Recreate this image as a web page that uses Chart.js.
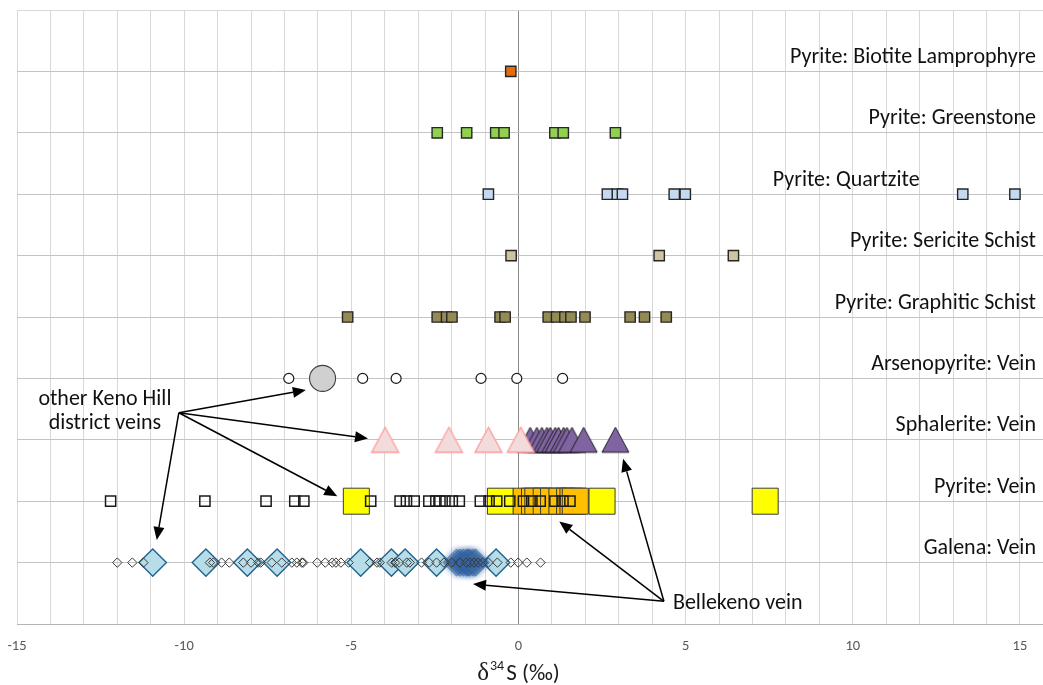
<!DOCTYPE html>
<html>
<head>
<meta charset="utf-8">
<script src="https://cdn.jsdelivr.net/npm/chart.js@4.4.0/dist/chart.umd.min.js"></script>
<style>
  html, body { margin: 0; padding: 0; background: #ffffff; }
  #wrap { width: 1043px; height: 685px; position: relative; }
</style>
</head>
<body>
<div id="wrap"><canvas id="chart"></canvas></div>
<script>
// Row captions, bottom row first (row 1 = Galena: Vein)
const rowNames = [
  'Galena: Vein',
  'Pyrite: Vein',
  'Sphalerite: Vein',
  'Arsenopyrite: Vein',
  'Pyrite: Graphitic Schist',
  'Pyrite: Sericite Schist',
  'Pyrite: Quartzite',
  'Pyrite: Greenstone',
  'Pyrite: Biotite Lamprophyre'
];

// x-axis labelled ticks (‰) and axis title parts: δ, superscript 34, S (‰)
const xTickLabels = [-15, -10, -5, 0, 5, 10, 15];
const axisTitleParts = ['δ', '34', 'S (‰)'];

// δ34S values (‰)
const biotiteLamprophyre = [-0.23];
const greenstone = [-2.43, -1.55, -0.68, -0.43, 1.09, 1.34, 2.90];
const quartzite = [-0.90, 2.66, 2.96, 3.11, 4.66, 4.99, 13.29, 14.85];
const sericiteSchist = [-0.22, 4.21, 6.43];
const graphiticSchist = [-5.11, -2.43, -2.15, -1.99, -0.55, -0.40, 0.89, 1.14, 1.39, 1.57, 1.99, 3.34, 3.77, 4.42];

const arsenopyriteSamples = [-6.87, -4.66, -3.66, -1.12, -0.05, 1.32];
const arsenopyriteDistrict = [-5.86];

const sphaleriteDistrict = [-3.99, -2.08, -0.90, 0.07];
const sphaleriteBellekeno = [0.35, 0.55, 0.70, 0.85, 0.95, 1.10, 1.20, 1.35, 1.45, 1.60, 1.95, 2.90];

const pyriteSamples = [-12.20, -9.38, -7.55, -6.69, -6.42, -4.42, -3.54, -3.35, -3.12, -2.68, -2.47,
  -2.35, -2.20, -1.98, -1.77, -1.14, -0.88, -0.65, -0.26, 0.15, 0.40, 0.65, 1.09, 1.33, 1.54];
const pyriteDistrict = [-4.85, -0.54, 2.50, 7.38];
const pyriteBellekeno = [0.23, 0.48, 0.58, 0.83, 1.05, 1.30, 1.53, 1.63, 1.70];

const galenaSamples = [-12.00, -11.55, -11.22, -9.23, -9.13, -8.88, -8.65, -8.23, -8.00, -7.78, -7.71,
  -7.38, -7.08, -6.78, -6.63, -6.48, -6.44, -6.02, -5.78, -5.57, -5.46, -5.31, -5.08, -4.44, -4.23,
  -4.15, -3.79, -3.69, -3.57, -3.34, -3.25, -2.90, -2.67, -2.45, -2.23, -2.00, -1.75, -1.55, -1.45,
  -1.33, -1.20, -1.07, -0.90, -0.63, -0.23, -0.01, 0.25, 0.66];
const galenaDistrict = [-10.94, -9.35, -8.11, -7.22, -4.72, -3.80, -3.39, -2.45, -0.67];
const galenaBellekeno = [-1.85, -1.75, -1.65, -1.55, -1.50, -1.45, -1.35, -1.28];

// Call-out arrows, in axis units: [x (‰), row]
const calloutDistrict = { from: [-10.16, 3.44], to: [[-6.36, 3.81], [-4.50, 3.02], [-5.42, 2.08], [-10.82, 1.37]] };
const calloutBellekeno = { from: [4.35, 0.37], to: [[-1.36, 0.65], [1.22, 1.67], [3.13, 2.69]] };

const FONT = '"Carlito", "Lato", "Liberation Sans", sans-serif';
const SERIF = '"Liberation Serif", "DejaVu Serif", serif';

const onRow = (values, row) => values.map(v => ({ x: v, y: row }));

// Triangle marker drawn into a small canvas so it is centred on its bounding box
function triangleMarker(fill, stroke, lineWidth, w, h) {
  const pad = 2;
  const c = document.createElement('canvas');
  c.width = w + pad * 2;
  c.height = h + pad * 2;
  const g = c.getContext('2d');
  g.beginPath();
  g.moveTo(pad + w / 2, pad);
  g.lineTo(pad + w, pad + h);
  g.lineTo(pad, pad + h);
  g.closePath();
  g.fillStyle = fill;
  g.fill();
  g.lineWidth = lineWidth;
  g.strokeStyle = stroke;
  g.lineJoin = 'miter';
  g.stroke();
  return c;
}

const pinkTriangle = triangleMarker('#f2dcdb', '#ff9a9a', 1.3, 27, 25);
const purpleTriangle = triangleMarker('#8064a2', '#1c1c1c', 1, 27, 25);

function ds(label, data, row, style, order) {
  return Object.assign({
    label,
    data: onRow(data, row),
    order,
    showLine: false
  }, style);
}

const smallSquare = (fill) => ({ pointStyle: 'rect', pointRadius: 7.3, backgroundColor: fill, borderColor: '#262626', borderWidth: 1.4 });

const datasets = [
  ds('Galena samples', galenaSamples, 1, { pointStyle: 'rectRot', pointRadius: 4.7, backgroundColor: 'rgba(0,0,0,0)', borderColor: '#3a3a3a', borderWidth: 1 }, 0),
  ds('Pyrite samples', pyriteSamples, 2, { pointStyle: 'rect', pointRadius: 7.2, backgroundColor: 'rgba(0,0,0,0)', borderColor: '#1a1a1a', borderWidth: 1.5 }, 1),
  ds('Arsenopyrite samples', arsenopyriteSamples, 4, { pointStyle: 'circle', pointRadius: 5, backgroundColor: '#ffffff', borderColor: '#1a1a1a', borderWidth: 1.2 }, 2),
  ds('Sphalerite district', sphaleriteDistrict, 3, { pointStyle: pinkTriangle, pointRadius: 13 }, 3),
  ds('Sphalerite Bellekeno', sphaleriteBellekeno, 3, { pointStyle: purpleTriangle, pointRadius: 13 }, 4),
  ds('Galena Bellekeno', galenaBellekeno, 1, { pointStyle: 'rectRot', pointRadius: 13.7, backgroundColor: 'rgba(58,104,160,0.5)', borderColor: 'rgba(40,80,135,0.45)', borderWidth: 1, glow: true }, 5),
  ds('Galena district', galenaDistrict, 1, { pointStyle: 'rectRot', pointRadius: 13.7, backgroundColor: '#b7dee8', borderColor: '#1f6391', borderWidth: 1.4 }, 6),
  ds('Pyrite Bellekeno', pyriteBellekeno, 2, { pointStyle: 'rect', pointRadius: 18.4, backgroundColor: '#ffc000', borderColor: '#3a3a3a', borderWidth: 1 }, 7),
  ds('Pyrite district', pyriteDistrict, 2, { pointStyle: 'rect', pointRadius: 18.4, backgroundColor: '#ffff00', borderColor: '#3a3a3a', borderWidth: 1 }, 8),
  ds('Arsenopyrite district', arsenopyriteDistrict, 4, { pointStyle: 'circle', pointRadius: 13, backgroundColor: '#d0d0d0', borderColor: '#404040', borderWidth: 1.1 }, 9),
  ds('Graphitic schist', graphiticSchist, 5, smallSquare('#948a54'), 10),
  ds('Sericite schist', sericiteSchist, 6, smallSquare('#cdc4a2'), 11),
  ds('Quartzite', quartzite, 7, smallSquare('#c5d9f1'), 12),
  ds('Greenstone', greenstone, 8, smallSquare('#92d050'), 13),
  ds('Biotite lamprophyre', biotiteLamprophyre, 9, smallSquare('#e46c0a'), 14)
];

// Soft glow behind the Bellekeno galena cluster
const glowPlugin = {
  id: 'glow',
  beforeDatasetDraw(chart, args) {
    if (chart.data.datasets[args.index].glow) {
      const ctx = chart.ctx;
      ctx.save();
      ctx.shadowColor = 'rgba(60,110,175,0.85)';
      ctx.shadowBlur = 6;
    }
  },
  afterDatasetDraw(chart, args) {
    if (chart.data.datasets[args.index].glow) chart.ctx.restore();
  }
};

function drawArrow(ctx, x0, y0, x1, y1) {
  const ang = Math.atan2(y1 - y0, x1 - x0);
  const len = 13, half = 5.5;
  const bx = x1 - Math.cos(ang) * len, by = y1 - Math.sin(ang) * len;
  ctx.beginPath();
  ctx.moveTo(x0, y0);
  ctx.lineTo(bx, by);
  ctx.stroke();
  ctx.beginPath();
  ctx.moveTo(x1, y1);
  ctx.lineTo(bx + Math.sin(ang) * half, by - Math.cos(ang) * half);
  ctx.lineTo(bx - Math.sin(ang) * half, by + Math.cos(ang) * half);
  ctx.closePath();
  ctx.fill();
}

// Row captions, call-outs and the x-axis title (δ with superscript 34)
const captionPlugin = {
  id: 'captions',
  afterDatasetsDraw(chart) {
    const { ctx } = chart;
    const xs = chart.scales.x, ys = chart.scales.y;
    ctx.save();
    ctx.fillStyle = '#111111';
    ctx.font = '22px ' + FONT;
    ctx.textAlign = 'right';
    ctx.textBaseline = 'middle';
    rowNames.forEach((name, i) => {
      const right = name === 'Pyrite: Quartzite' ? 12.0 : 15.48;
      ctx.fillText(name, xs.getPixelForValue(right), ys.getPixelForValue(i + 1) - 14);
    });

    ctx.textAlign = 'center';
    const cx = xs.getPixelForValue(-12.37);
    ctx.fillText('other Keno Hill', cx, ys.getPixelForValue(3.66));
    ctx.fillText('district veins', cx, ys.getPixelForValue(3.26));
    ctx.textAlign = 'left';
    ctx.fillText('Bellekeno vein', xs.getPixelForValue(4.62), ys.getPixelForValue(0.34));

    ctx.strokeStyle = '#000000';
    ctx.fillStyle = '#000000';
    ctx.lineWidth = 1.5;
    [calloutDistrict, calloutBellekeno].forEach(c => {
      const x0 = xs.getPixelForValue(c.from[0]), y0 = ys.getPixelForValue(c.from[1]);
      c.to.forEach(t => drawArrow(ctx, x0, y0, xs.getPixelForValue(t[0]), ys.getPixelForValue(t[1])));
    });

    // axis title
    const fonts = ['25px ' + SERIF, '14px ' + FONT, '23px ' + FONT];
    const rise = [0, -10, 0];
    const gaps = [1, 2, 0];
    ctx.textAlign = 'left';
    ctx.textBaseline = 'alphabetic';
    ctx.fillStyle = '#1a1a1a';
    const widths = axisTitleParts.map((t, i) => { ctx.font = fonts[i]; return ctx.measureText(t).width; });
    const total = widths.reduce((a, w, i) => a + w + gaps[i], 0);
    let tx = xs.getPixelForValue(0) - total / 2;
    const base = xs.bottom - 5;
    axisTitleParts.forEach((t, i) => {
      ctx.font = fonts[i];
      ctx.fillText(t, tx, base + rise[i]);
      tx += widths[i] + gaps[i];
    });
    ctx.restore();
  }
};

const xGrid = [];
for (let v = -15; v <= 15; v++) xGrid.push(v);
const yGrid = [];
for (let v = 0; v <= 10; v++) yGrid.push(v);

new Chart(document.getElementById('chart'), {
  type: 'scatter',
  data: { datasets },
  plugins: [glowPlugin, captionPlugin],
  options: {
    responsive: true,
    maintainAspectRatio: false,
    animation: false,
    events: [],
    layout: { autoPadding: false, padding: { left: 17, top: 10, right: 0, bottom: 0 } },
    plugins: { legend: { display: false }, tooltip: { enabled: false } },
    scales: {
      x: {
        type: 'linear',
        min: -15,
        max: 15.69,
        afterBuildTicks: s => { s.ticks = xGrid.map(v => ({ value: v })); },
        afterFit: s => { s.height = 61; },
        ticks: {
          autoSkip: false,
          maxRotation: 0,
          padding: 0,
          color: '#595959',
          font: { family: FONT, size: 14.5 },
          callback: v => (xTickLabels.includes(v) ? String(v) : '')
        },
        grid: {
          drawTicks: true,
          tickLength: 14,
          tickColor: 'rgba(0,0,0,0)',
          lineWidth: 1,
          color: c => (c.tick && c.tick.value === 0 ? '#8a8a8a' : '#d9d9d9')
        },
        border: { display: true, color: '#b3b3b3' },
        title: { display: false }
      },
      y: {
        type: 'linear',
        min: 0,
        max: 10,
        afterBuildTicks: s => { s.ticks = yGrid.map(v => ({ value: v })); },
        afterFit: s => { s.width = 0; },
        ticks: { display: false, padding: 0 },
        grid: {
          drawTicks: false,
          lineWidth: 1,
          color: c => (c.tick && c.tick.value === 10 ? '#d9d9d9' : '#c4c4c4')
        },
        border: { display: false }
      }
    }
  }
});
</script>
</body>
</html>
